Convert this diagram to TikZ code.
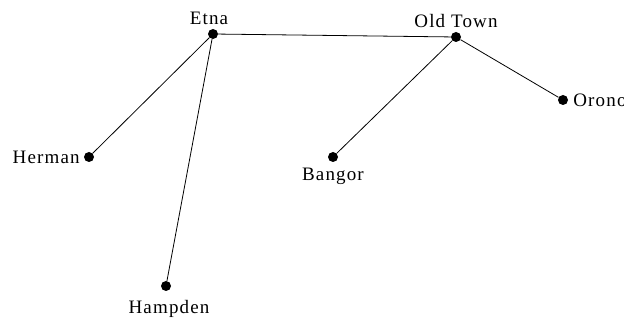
\documentclass[tikz,border=0pt]{standalone}
\usepackage{fontspec}
\setmainfont[LetterSpace=6]{Liberation Serif}
\usepackage{tikz}
\usetikzlibrary{positioning}

\begin{document}
\begin{tikzpicture}[x=1pt,y=-1pt,
    town/.style={circle,fill=black,inner sep=0pt,minimum size=10pt},
    every label/.style={font=\fontsize{19}{21}\selectfont,inner sep=4pt}]

  \useasboundingbox (0,0) rectangle (624,320);

  \node (etna)    [town,label={[label distance=0pt,xshift=-4pt]above:Etna}]   at (213,34)  {};
  \node (oldtown) [town,label={[label distance=0pt]above:Old Town}]          at (456,37)  {};
  \node (orono)   [town,label={[label distance=1pt]right:Orono}]             at (563,100) {};
  \node (herman)  [town,label={left:Herman}]                                 at (89,157)  {};
  \node (bangor)  [town,label={[label distance=2pt]below:Bangor}]            at (333,157) {};
  \node (hampden) [town,label={[label distance=5pt,xshift=3pt]below:Hampden}] at (166,286) {};

  \path[draw,line width=0.8pt]
        (etna) edge (oldtown)
        (etna) edge (herman)
        (etna) edge (hampden)
        (oldtown) edge (bangor)
        (oldtown) edge (orono);

\end{tikzpicture}
\end{document}
